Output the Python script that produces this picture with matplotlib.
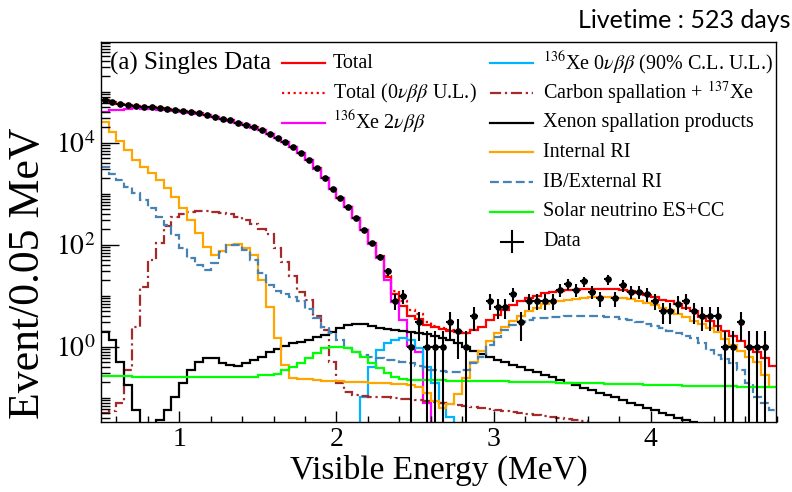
import numpy as np
import matplotlib
matplotlib.use('Agg')
import matplotlib.pyplot as plt
from matplotlib.lines import Line2D
from matplotlib.ticker import FixedLocator, FuncFormatter, MultipleLocator, NullFormatter

plt.rcParams['font.family'] = ['Liberation Serif', 'DejaVu Serif']
plt.rcParams['mathtext.fontset'] = 'stix'

# ---------------- binning ----------------
bin_start = 0.5
bin_width = 0.05
n_bins = 86

# ---------------- data (events / 0.05 MeV) ----------------
data_counts = [68700, 62000, 57200, 53900, 52400, 50700, 49200, 47000, 45700, 43800,
               41800, 39400, 37600, 34800, 32300, 29500, 27300, 24700, 22500, 20100,
               17700, 15100, 12600, 10300, 8220, 6270, 4570, 3120, 2030, 1240,
               822, 549, 333, 194, 107, 57, 30, 8, 10, 1,
               3, 1, 1, 1, 3, 2, 1, 4, 0, 8,
               6, 6, 11, 3, 8, 8, 8, 8, 13, 17,
               13, 19, 12, 9, 21, 9, 16, 12, 12, 11,
               8, 5, 5, 7, 8, 5, 4, 4, 4, 1,
               1, 3, 1, 1, 1, 0]

total = [68900, 61900, 57200, 54000, 52400, 50800, 49200, 46900, 45600, 43700,
         41700, 39400, 37600, 34800, 32300, 29500, 27300, 24600, 22500, 20100,
         17700, 15100, 12600, 10300, 8220, 6270, 4570, 3120, 2030, 1240,
         822, 549, 333, 194, 108, 57.8, 23.6, 10.7, 6.37, 3.93,
         3.54, 2.63, 2.40, 2.21, 2.05, 1.91, 1.88, 2.10, 2.45, 3.27,
         4.24, 5.31, 6.54, 7.73, 9.02, 10.0, 11.1, 11.8, 12.4, 12.8,
         13.2, 13.6, 13.7, 13.8, 13.5, 13.3, 12.7, 12.1, 11.3, 10.4,
         9.29, 8.38, 7.9, 7.0, 5.65, 4.92, 3.9, 3.2, 2.6, 2.05,
         1.6, 1.28, 0.98, 0.78, 0.6, 0.42]

# Total incl. 0vbb upper limit (bins 30..47)
total_ul_first_bin = 30
total_ul = [822, 549, 333, 194, 108.4, 58.7, 24.8, 12.1, 7.83, 5.29,
            4.47, 3.04, 2.59, 2.29, 2.09, 1.91, 1.88, 2.10]

# 136Xe 2vbb (bins 0..42)
xe2nu = [39900, 43100, 44600, 45400, 46800, 46600, 46100, 44600, 43900, 42400,
         40700, 38600, 36900, 34200, 31700, 28900, 26700, 24100, 22100, 19700,
         17500, 14900, 12500, 10200, 8190, 6240, 4550, 3100, 2020, 1230,
         819, 545, 329, 190, 104, 54.3, 20.3, 7.52, 3.33, 1.03,
         0.79, 0.079, 0]

# 136Xe 0vbb 90% C.L. U.L. (bins 32..45)
xe0nu_first_bin = 32
xe0nu = [0, 0.104, 0.405, 0.860, 1.16, 1.36, 1.46, 1.36, 0.929, 0.405,
         0.191, 0.0775, 0.0424, 0]

# Carbon spallation + 137Xe (bins 0..61)
carbon = [0.0500, 0.0549, 0.0775, 0.349, 2.47, 15.0, 50.0, 106, 232, 349,
          400, 438, 458, 458, 447, 427, 391, 349, 304, 254,
          203, 162, 86.0, 45.7, 24.3, 11.8, 8.22, 3.99, 2.12, 0.500,
          0.194, 0.129, 0.113, 0.108, 0.105, 0.103, 0.101, 0.0985, 0.0963, 0.0942,
          0.0899, 0.0860, 0.0822, 0.0804, 0.0768, 0.0734, 0.0701, 0.0670, 0.0641, 0.0612,
          0.0585, 0.0559, 0.0535, 0.0511, 0.0487, 0.0466, 0.0446, 0.0426, 0.0407, 0.0389,
          0.0372, 0.0347]

# Xenon spallation products (bins 0..75)
xenon_spall = [1.97, 1.36, 0.507, 0.177, 0.0573, 0.018, 0.018, 0.0365, 0.0573, 0.104,
               0.191, 0.349, 0.507, 0.608, 0.591, 0.472, 0.437, 0.418, 0.472, 0.548,
               0.636, 0.797, 0.887, 1.03, 1.17, 1.25, 1.36, 1.57, 1.70, 1.97,
               2.29, 2.66, 2.78, 2.78, 2.54, 2.29, 2.22, 2.12, 2.03, 1.94,
               1.85, 1.77, 1.65, 1.51, 1.36, 1.18, 0.998, 0.841, 0.719, 0.627,
               0.548, 0.490, 0.437, 0.391, 0.349, 0.312, 0.278, 0.249, 0.222, 0.198,
               0.177, 0.158, 0.142, 0.126, 0.113, 0.101, 0.0899, 0.0804, 0.0717, 0.0641,
               0.0573, 0.0512, 0.0457, 0.0408, 0.0365, 0.0333]

internal_ri = [25700, 16400, 10800, 7170, 4570, 3370, 2500, 1850, 1270, 873,
               517, 304, 170, 89.7, 62.5, 76.7, 99.1, 103, 85.0, 62.5,
               20.3, 6.08, 1.48, 0.437, 0.240, 0.232, 0.228, 0.222, 0.217, 0.212,
               0.209, 0.205, 0.203, 0.201, 0.197, 0.194, 0.191, 0.188, 0.185, 0.177,
               0.162, 0.124, 0.0861, 0.0625, 0.0755, 0.118, 0.243, 0.500, 0.826, 1.29,
               1.85, 2.43, 3.19, 3.99, 5.00, 5.86, 6.87, 7.52, 8.04, 8.41,
               8.80, 9.20, 9.42, 9.55, 9.42, 9.20, 8.87, 8.48, 7.97, 7.34,
               6.56, 5.86, 5.24, 4.47, 3.82, 3.26, 2.78, 2.32, 1.94, 1.42,
               1.07, 0.826, 0.625, 0.496, 0.278, 0.162]

external_ri = [3290, 2400, 1850, 1370, 1020, 752, 517, 353, 243, 155,
               85.0, 54.0, 39.9, 31.9, 43.1, 72.8, 98.5, 98.5, 78.6, 50.0,
               27.5, 16.2, 12.5, 11.0, 9.3, 7.9, 5.4, 3.6, 2.4, 1.85,
               1.36, 0.93, 0.78, 0.70, 0.636, 0.591, 0.548, 0.548, 0.507, 0.472,
               0.418, 0.349, 0.349, 0.334, 0.323, 0.323, 0.349, 0.472, 0.636, 1.08,
               1.57, 2.12, 2.66, 3.09, 3.41, 3.60, 3.73, 3.82, 3.87, 3.94,
               3.99, 3.99, 3.99, 3.94, 3.82, 3.76, 3.56, 3.33, 3.04, 2.78,
               2.49, 2.29, 2.03, 1.83, 1.62, 1.46, 1.17, 0.860, 0.687, 0.573,
               0.472, 0.349, 0.191, 0.104, 0.0787, 0.0573]

solar = [0.262, 0.262, 0.261, 0.261, 0.260, 0.260, 0.258, 0.258, 0.257, 0.257,
         0.256, 0.256, 0.255, 0.255, 0.255, 0.254, 0.254, 0.254, 0.253, 0.253,
         0.273, 0.278, 0.291, 0.349, 0.405, 0.472, 0.591, 0.741, 0.929, 0.998,
         0.998, 0.929, 0.797, 0.636, 0.472, 0.376, 0.301, 0.257, 0.229, 0.224,
         0.222, 0.221, 0.219, 0.218, 0.217, 0.216, 0.215, 0.214, 0.212, 0.210,
         0.209, 0.208, 0.207, 0.205, 0.203, 0.202, 0.201, 0.199, 0.197, 0.196,
         0.195, 0.194, 0.191, 0.190, 0.189, 0.186, 0.185, 0.184, 0.182, 0.181,
         0.179, 0.177, 0.176, 0.175, 0.173, 0.172, 0.171, 0.170, 0.169, 0.168,
         0.166, 0.165, 0.165, 0.164, 0.163, 0.163]

x_tick_values = [1, 2, 3, 4]
y_tick_values = [1e0, 1e2, 1e4]

# ---------------- figure ----------------
W, H = 792, 492
fig = plt.figure(figsize=(W / 100, H / 100), dpi=100)
fig.patch.set_facecolor('white')

def fx(px):
    return px / W

def fy(py):
    return 1 - py / H

ax_l, ax_r, ax_t, ax_b = 100.7, 776.5, 41.7, 421.7
ax = fig.add_axes([fx(ax_l), fy(ax_b), (ax_r - ax_l) / W, (ax_b - ax_t) / H])
ax.set_yscale('log')
ax.set_xlim(0.5, 4.8)
ax.set_ylim(0.0338, 9.55e5)

edges = bin_start + bin_width * np.arange(n_bins + 1)
centers = 0.5 * (edges[:-1] + edges[1:])

def hist(vals, first=0, **kw):
    v = np.asarray(vals, dtype=float)
    ax.stairs(v, edges[first:first + len(v) + 1], baseline=None, **kw)

LW = 1.6
C_RED = '#ff0000'
C_MAG = '#ff00ff'
C_CYAN = '#00b4ff'
C_BROWN = '#a52a2a'
C_ORANGE = '#ffa500'
C_BLUE = '#4682b4'
C_GREEN = '#00ff00'

st_total_ul = dict(color=C_RED, lw=LW, linestyle=(0, (1, 1.6)))
st_total = dict(color=C_RED, lw=LW)
st_2nu = dict(color=C_MAG, lw=LW)
st_0nu = dict(color=C_CYAN, lw=LW)
st_carbon = dict(color=C_BROWN, lw=LW, linestyle=(0, (5, 1.7, 1, 1.7)))
st_xe = dict(color='black', lw=LW)
st_int = dict(color=C_ORANGE, lw=LW)
st_ext = dict(color=C_BLUE, lw=LW, linestyle=(0, (4, 1.8)))
st_sol = dict(color=C_GREEN, lw=LW)

hist(total_ul, total_ul_first_bin, **st_total_ul)
hist(total, **st_total)
hist(xe2nu, **st_2nu)
hist(xe0nu, xe0nu_first_bin, **st_0nu)
hist(carbon, **st_carbon)
hist(xenon_spall, **st_xe)
hist(internal_ri, **st_int)
hist(external_ri, **st_ext)
hist(solar, **st_sol)

d = np.asarray(data_counts, dtype=float)
m = d > 0
ax.errorbar(centers[m], d[m], xerr=bin_width / 2, yerr=np.sqrt(d[m]),
            fmt='o', color='black', ms=3.8, elinewidth=1.5, capsize=0, zorder=5)

# ---------------- axes style ----------------
for s in ax.spines.values():
    s.set_linewidth(1.0)
ax.tick_params(axis='both', which='both', direction='in', top=False, right=False, width=1)
ax.xaxis.set_major_locator(FixedLocator(x_tick_values))
ax.xaxis.set_minor_locator(MultipleLocator(0.2))
ax.xaxis.set_major_formatter(FuncFormatter(lambda v, p: '%d' % v))
ax.tick_params(axis='x', which='major', length=8, labelsize=20, pad=4)
ax.tick_params(axis='x', which='minor', length=4.3)
ax.yaxis.set_major_locator(FixedLocator(y_tick_values))
ax.yaxis.set_minor_locator(FixedLocator([k * 10.0 ** e for e in range(-2, 7) for k in range(1, 10)
                                         if not (k == 1 and e in (0, 2, 4))]))
ax.yaxis.set_major_formatter(FuncFormatter(lambda v, p: r'$10^{%d}$' % int(round(np.log10(v)))))
ax.yaxis.set_minor_formatter(NullFormatter())
ax.tick_params(axis='y', which='major', length=13, labelsize=20, pad=4)
ax.tick_params(axis='y', which='minor', length=6.5)

ax.set_xlabel('Visible Energy (MeV)', fontsize=24)
ax.xaxis.set_label_coords(0.5, -0.088)
ax.xaxis.label.set_va('top')
ax.set_ylabel('Event/0.05 MeV', fontsize=31.5)
ax.yaxis.set_label_coords((28 - ax_l) / (ax_r - ax_l), (ax_b - 273) / (ax_b - ax_t))
ax.yaxis.label.set_va('center')

# ---------------- legend (drawn in figure pixels) ----------------
fig.text(fx(110), fy(63.3), '(a) Singles Data', fontsize=18, ha='left', va='center')

def legend_row(x_line, x_text, y, label, style, fs=14.5):
    fig.add_artist(Line2D([fx(x_line), fx(x_line + 43)], [fy(y), fy(y)], **style))
    fig.text(fx(x_text), fy(y), label, fontsize=fs, ha='left', va='center')

row = 29.7
left_entries = [('Total', st_total),
                (r'Total (0$\nu\beta\beta$ U.L.)', st_total_ul),
                (r'$^{136}$Xe 2$\nu\beta\beta$', st_2nu)]
for k, (lab, st) in enumerate(left_entries):
    legend_row(282, 333, 63.3 + k * row, lab, st)

right_entries = [(r'$^{136}$Xe 0$\nu\beta\beta$ (90% C.L. U.L.)', st_0nu),
                 (r'Carbon spallation + $^{137}$Xe', st_carbon),
                 ('Xenon spallation products', st_xe),
                 ('Internal RI', st_int),
                 ('IB/External RI', st_ext),
                 ('Solar neutrino ES+CC', st_sol)]
for k, (lab, st) in enumerate(right_entries):
    legend_row(490, 543, 63.3 + k * row, lab, st)

yd = 63.3 + 6 * row
fig.add_artist(Line2D([fx(501), fx(523)], [fy(yd), fy(yd)], color='black', lw=1.5))
fig.add_artist(Line2D([fx(512), fx(512)], [fy(yd - 10), fy(yd + 10)], color='black', lw=1.5))
fig.text(fx(543), fy(yd), 'Data', fontsize=14.5, ha='left', va='center')

fig.text(fx(790), fy(20), 'Livetime : 523 days', fontsize=18, ha='right', va='center',
         family=['Lato', 'DejaVu Sans'])

fig.savefig('out.png', dpi=100)
